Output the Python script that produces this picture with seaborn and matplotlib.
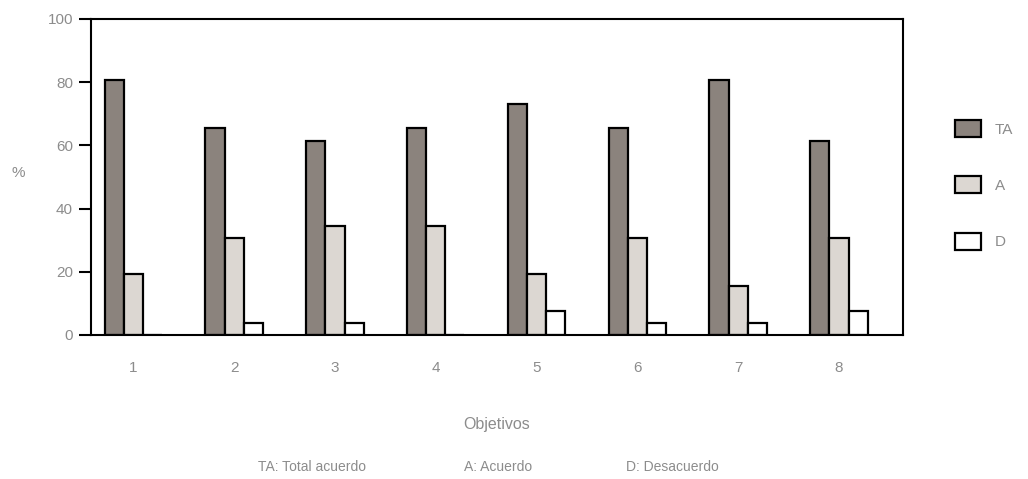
import seaborn as sns
import pandas as pd
import numpy as np
import matplotlib.pyplot as plt

objetivos = ['1', '2', '3', '4', '5', '6', '7', '8']
ta = [80.8, 65.4, 61.5, 65.4, 73.1, 65.4, 80.8, 61.5]
a = [19.2, 30.8, 34.6, 34.6, 19.2, 30.8, 15.4, 30.8]
d = [0.0, 3.8, 3.8, 0.0, 7.7, 3.8, 3.8, 7.7]
series = ['TA', 'A', 'D']
colores = ['#8b837d', '#dcd7d2', '#ffffff']
gris = '#8c8c8c'

df = pd.DataFrame({
    'obj': objetivos * 3,
    'serie': np.repeat(series, len(objetivos)),
    'valor': ta + a + d,
})

sns.set_style('white')
plt.rcParams['font.family'] = ['Liberation Sans', 'DejaVu Sans']

fig = plt.figure(figsize=(10.28, 4.79), dpi=100)
ax = fig.add_axes([91 / 1028, 1 - 335 / 479, (903 - 91) / 1028, (335 - 19) / 479])

sns.barplot(data=df, x='obj', y='valor', hue='serie', palette=colores,
            width=0.57, edgecolor='black', linewidth=1.6, saturation=1,
            ax=ax)

ax.set_ylim(0, 100)
ax.set_xlim(-0.42, 7.635)
ax.set_yticks([0, 20, 40, 60, 80, 100])
ax.tick_params(axis='y', length=9, width=1.5, color='black', direction='out',
               left=True, labelsize=11, labelcolor=gris, pad=4)
ax.tick_params(axis='x', length=0, labelsize=11, labelcolor=gris, pad=19)
for s in ax.spines.values():
    s.set_linewidth(1.5)
    s.set_color('black')

ax.set_xlabel('Objetivos', fontsize=11.5, color=gris, labelpad=30)
ax.set_ylabel('%', fontsize=11, color=gris, rotation=0, labelpad=0)
ax.yaxis.set_label_coords(-0.09, 0.49)

handles, labels = ax.get_legend_handles_labels()
ax.legend(handles, labels, loc='upper left', frameon=False,
          bbox_to_anchor=(949 / 1028, 1 - 114 / 479), bbox_transform=fig.transFigure,
          borderaxespad=0, handlelength=1.7, handleheight=1.3, labelspacing=2.6,
          handletextpad=0.9, fontsize=11, labelcolor=gris)

fig.text(312 / 1028, 1 - 467 / 479, 'TA: Total acuerdo', ha='center', va='center', fontsize=10, color=gris)
fig.text(498 / 1028, 1 - 467 / 479, 'A: Acuerdo', ha='center', va='center', fontsize=10, color=gris)
fig.text(672 / 1028, 1 - 467 / 479, 'D: Desacuerdo', ha='center', va='center', fontsize=10, color=gris)

fig.savefig('out.png', dpi=100)
